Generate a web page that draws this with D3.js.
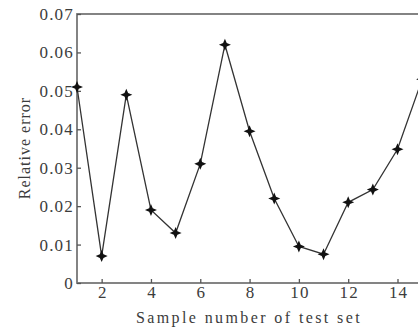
<!DOCTYPE html>
<html>
<head>
<meta charset="utf-8">
<script src="https://cdn.jsdelivr.net/npm/d3@7"></script>
<style>
  body { margin: 0; background: #fff; }
  svg { display: block; }
</style>
</head>
<body>
<div id="container"></div>
<script>
// data
var samples = [1, 2, 3, 4, 5, 6, 7, 8, 9, 10, 11, 12, 13, 14, 15];
var relErr = [0.051, 0.007, 0.049, 0.019, 0.013, 0.031, 0.062, 0.0395, 0.022, 0.0095, 0.0075, 0.021, 0.0243, 0.0348, 0.053];
var xTicks = [2, 4, 6, 8, 10, 12, 14];
var yTicks = [0, 0.01, 0.02, 0.03, 0.04, 0.05, 0.06, 0.07];

(function() {
  var width = 418, height = 329;
  var plotLeft = 77, plotTop = 14, plotBottom = 283;

  var svg = d3.select('#container').append('svg')
    .attr('width', width).attr('height', height);

  var x = d3.scaleLinear().domain([1, 14]).range([plotLeft, 397.5]);
  var y = d3.scaleLinear().domain([0, 0.07]).range([plotBottom, plotTop]);
  var plotRight = x(16);

  var ink = '#3c3c3c';
  var font = '"Liberation Serif", "Times New Roman", serif';

  // frame
  svg.append('rect')
    .attr('x', plotLeft).attr('y', plotTop)
    .attr('width', plotRight - plotLeft).attr('height', plotBottom - plotTop)
    .attr('fill', 'none').attr('stroke', '#777').attr('stroke-width', 1.8);

  // axes (ticks point inward)
  var xAxis = svg.append('g')
    .attr('transform', 'translate(0,' + plotBottom + ')')
    .call(d3.axisBottom(x).tickValues(xTicks).tickSizeInner(-4).tickSizeOuter(0).tickPadding(3));
  var yAxis = svg.append('g')
    .attr('transform', 'translate(' + plotLeft + ',0)')
    .call(d3.axisLeft(y).tickValues(yTicks).tickSizeInner(-4).tickSizeOuter(0).tickPadding(3)
      .tickFormat(function(d) { return d === 0 ? '0' : d3.format('.2f')(d); }));

  [xAxis, yAxis].forEach(function(g) {
    g.select('.domain').remove();
    g.selectAll('line').attr('stroke', '#555').attr('stroke-width', 1.3);
    g.selectAll('text').attr('fill', ink)
      .style('font-family', font).style('font-size', '17px').style('letter-spacing', '1.2px');
  });
  xAxis.selectAll('text').attr('dx', '0.6px');

  // line
  var line = d3.line()
    .x(function(d, i) { return x(samples[i]); })
    .y(function(d) { return y(d); });

  svg.append('path')
    .datum(relErr)
    .attr('d', line)
    .attr('fill', 'none')
    .attr('stroke', '#333')
    .attr('stroke-width', 1.3);

  // four-pointed star markers
  var star4 = {
    draw: function(ctx, size) {
      var r = Math.sqrt(size), s = r * 0.3;
      ctx.moveTo(0, -r);
      ctx.lineTo(s, -s);
      ctx.lineTo(r, 0);
      ctx.lineTo(s, s);
      ctx.lineTo(0, r);
      ctx.lineTo(-s, s);
      ctx.lineTo(-r, 0);
      ctx.lineTo(-s, -s);
      ctx.closePath();
    }
  };

  svg.selectAll('.marker')
    .data(relErr)
    .enter().append('path')
    .attr('class', 'marker')
    .attr('transform', function(d, i) { return 'translate(' + x(samples[i]) + ',' + y(d) + ')'; })
    .attr('d', d3.symbol().type(star4).size(36))
    .attr('fill', '#111');

  // titles
  svg.append('text')
    .attr('x', 249).attr('y', 323)
    .attr('text-anchor', 'middle')
    .attr('fill', ink)
    .style('font-family', font).style('font-size', '16px').style('letter-spacing', '2.4px')
    .text('Sample number of test set');

  svg.append('text')
    .attr('transform', 'translate(30,148) rotate(-90)')
    .attr('text-anchor', 'middle')
    .attr('fill', ink)
    .style('font-family', font).style('font-size', '16px').style('letter-spacing', '1px')
    .text('Relative error');
})();
</script>
</body>
</html>
